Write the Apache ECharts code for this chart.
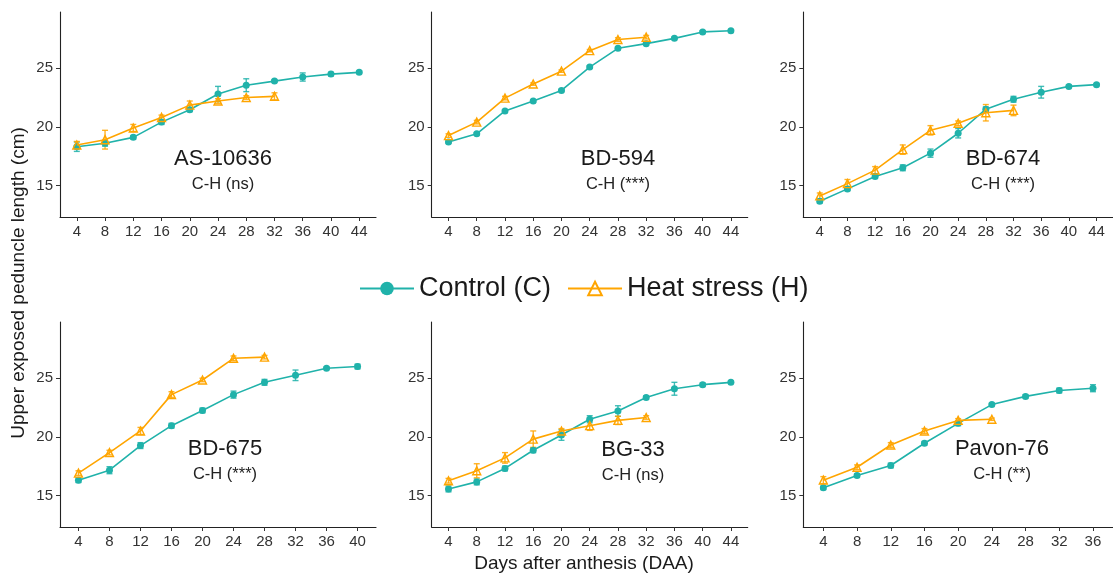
<!DOCTYPE html>
<html>
<head>
<meta charset="utf-8">
<script src="https://cdn.jsdelivr.net/npm/echarts@6/dist/echarts.min.js"></script>
<style>
  html, body { margin: 0; background: #fff; }
  #chart { width: 1113px; height: 574px; }
</style>
</head>
<body>
<div id="chart"></div>
<script>
// sampling days (DAA)
const days = [4, 8, 12, 16, 20, 24, 28, 32, 36, 40, 44];
const yTicks = [15, 20, 25];

const cultivars = ['AS-10636', 'BD-594', 'BD-674', 'BD-675', 'BG-33', 'Pavon-76'];
const contrasts = ['C-H (ns)', 'C-H (***)', 'C-H (***)', 'C-H (***)', 'C-H (ns)', 'C-H (**)'];

// means and standard errors
const as10636Control = [18.3, 18.6, 19.1, 20.4, 21.45, 22.8, 23.55, 23.9, 24.25, 24.5, 24.65];
const as10636ControlSe = [0.4, 0.25, 0.15, 0.2, 0.15, 0.65, 0.55, 0.1, 0.35, 0.15, 0.1];
const as10636Heat = [18.45, 18.9, 19.9, 20.8, 21.85, 22.2, 22.5, 22.6];
const as10636HeatSe = [0.3, 0.8, 0.3, 0.2, 0.35, 0.2, 0.15, 0.3];

const bd594Control = [18.7, 19.4, 21.35, 22.2, 23.1, 25.1, 26.7, 27.1, 27.55, 28.1, 28.2];
const bd594ControlSe = [0.1, 0.1, 0.1, 0.1, 0.1, 0.1, 0.1, 0.1, 0.1, 0.1, 0.1];
const bd594Heat = [19.25, 20.4, 22.45, 23.65, 24.75, 26.5, 27.45, 27.65];
const bd594HeatSe = [0.15, 0.15, 0.15, 0.1, 0.1, 0.1, 0.15, 0.15];

const bd674Control = [13.65, 14.7, 15.75, 16.5, 17.75, 19.45, 21.5, 22.35, 22.95, 23.45, 23.6];
const bd674ControlSe = [0.15, 0.15, 0.15, 0.25, 0.35, 0.4, 0.2, 0.25, 0.5, 0.1, 0.1];
const bd674Heat = [14.1, 15.15, 16.3, 18.05, 19.7, 20.3, 21.2, 21.4];
const bd674HeatSe = [0.25, 0.35, 0.3, 0.4, 0.4, 0.2, 0.7, 0.45];

const bd675Control = [16.3, 17.15, 19.25, 20.95, 22.25, 23.6, 24.65, 25.25, 25.85, 26.0];
const bd675ControlSe = [0.2, 0.3, 0.25, 0.2, 0.2, 0.3, 0.25, 0.45, 0.1, 0.2];
const bd675Heat = [16.9, 18.65, 20.5, 23.6, 24.85, 26.7, 26.8];
const bd675HeatSe = [0.2, 0.2, 0.3, 0.25, 0.15, 0.2, 0.15];

const bg33Control = [15.55, 16.15, 17.3, 18.85, 20.15, 21.5, 22.2, 23.35, 24.1, 24.45, 24.65];
const bg33ControlSe = [0.25, 0.25, 0.2, 0.2, 0.45, 0.3, 0.45, 0.15, 0.55, 0.15, 0.1];
const bg33Heat = [16.25, 17.1, 18.2, 19.8, 20.5, 20.95, 21.4, 21.65];
const bg33HeatSe = [0.2, 0.6, 0.45, 0.7, 0.2, 0.4, 0.35, 0.15];

const pavon76Control = [15.65, 16.7, 17.55, 19.45, 21.15, 22.75, 23.45, 23.95, 24.15];
const pavon76ControlSe = [0.15, 0.15, 0.2, 0.15, 0.2, 0.1, 0.15, 0.2, 0.3];
const pavon76Heat = [16.3, 17.4, 19.3, 20.5, 21.4, 21.5];
const pavon76HeatSe = [0.3, 0.2, 0.2, 0.2, 0.15, 0.1];

const controlMeans = [as10636Control, bd594Control, bd674Control, bd675Control, bg33Control, pavon76Control];
const controlSe = [as10636ControlSe, bd594ControlSe, bd674ControlSe, bd675ControlSe, bg33ControlSe, pavon76ControlSe];
const heatMeans = [as10636Heat, bd594Heat, bd674Heat, bd675Heat, bg33Heat, pavon76Heat];
const heatSe = [as10636HeatSe, bd594HeatSe, bd674HeatSe, bd675HeatSe, bg33HeatSe, pavon76HeatSe];

const TEAL = '#20B2AA';
const ORANGE = '#FFA500';
const FONT = '"Liberation Sans", Arial, sans-serif';

// panel layout (px)
const lefts = [60, 431.7, 803.3];
const tops = [12, 322];
const panelW = 316, panelH = 205;
const xPad = 2.38;
const labelPos = [[223, 159], [618, 159], [1003, 159], [225, 449], [633, 450], [1002, 449]];

const chart = echarts.init(document.getElementById('chart'));

function errorBars(params, api) {
  const x = api.value(0);
  const lo = api.coord([x, api.value(1)]);
  const hi = api.coord([x, api.value(2)]);
  const w = 3;
  const style = { stroke: api.visual('color'), lineWidth: 1.4 };
  return {
    type: 'group',
    children: [
      { type: 'line', shape: { x1: lo[0], y1: lo[1], x2: hi[0], y2: hi[1] }, style },
      { type: 'line', shape: { x1: lo[0] - w, y1: lo[1], x2: lo[0] + w, y2: lo[1] }, style },
      { type: 'line', shape: { x1: hi[0] - w, y1: hi[1], x2: hi[0] + w, y2: hi[1] }, style }
    ]
  };
}

const grids = [], xAxes = [], yAxes = [], series = [], graphics = [];

cultivars.forEach((name, i) => {
  const row = Math.floor(i / 3), col = i % 3;
  grids.push({ left: lefts[col], top: tops[row], width: panelW, height: panelH });

  const n = controlMeans[i].length;
  const xTicks = days.slice(0, n);
  const last = xTicks[n - 1];
  xAxes.push({
    type: 'value', gridIndex: i,
    min: 4 - xPad, max: last + xPad,
    splitLine: { show: false },
    axisLine: { lineStyle: { color: '#222', width: 1.1 } },
    axisTick: { length: 4, customValues: xTicks, lineStyle: { color: '#333' } },
    axisLabel: { customValues: xTicks, fontFamily: FONT, fontSize: 15, color: '#333', margin: 7 }
  });
  yAxes.push({
    type: 'value', gridIndex: i,
    min: 12.3, max: 29.8,
    splitLine: { show: false },
    axisLine: { show: true, lineStyle: { color: '#222', width: 1.1 } },
    axisTick: { show: true, length: 4, customValues: yTicks, lineStyle: { color: '#333' } },
    axisLabel: { customValues: yTicks, fontFamily: FONT, fontSize: 15, color: '#333', margin: 7 }
  });

  const ctrl = controlMeans[i].map((v, j) => [days[j], v]);
  const heat = heatMeans[i].map((v, j) => [days[j], v]);
  const ctrlErr = controlMeans[i].map((v, j) => [days[j], v - controlSe[i][j], v + controlSe[i][j]]);
  const heatErr = heatMeans[i].map((v, j) => [days[j], v - heatSe[i][j], v + heatSe[i][j]]);

  series.push({
    type: 'custom', xAxisIndex: i, yAxisIndex: i, renderItem: errorBars,
    itemStyle: { color: 'rgba(32,178,170,0.85)' }, encode: { x: 0, y: [1, 2] }, data: ctrlErr, z: 1
  });
  series.push({
    type: 'custom', xAxisIndex: i, yAxisIndex: i, renderItem: errorBars,
    itemStyle: { color: 'rgba(255,165,0,0.85)' }, encode: { x: 0, y: [1, 2] }, data: heatErr, z: 1
  });
  series.push({
    name: 'Control (C)', type: 'line', xAxisIndex: i, yAxisIndex: i, data: ctrl,
    symbol: 'circle', symbolSize: 7,
    itemStyle: { color: TEAL }, lineStyle: { color: TEAL, width: 1.6 }, z: 3
  });
  series.push({
    name: 'Heat stress (H)', type: 'line', xAxisIndex: i, yAxisIndex: i, data: heat,
    symbol: 'triangle', symbolSize: 8,
    itemStyle: { color: 'rgba(255,255,255,0)', borderColor: ORANGE, borderWidth: 1.4 },
    lineStyle: { color: ORANGE, width: 1.6 }, z: 4
  });

  const [cx, cy] = labelPos[i];
  graphics.push({
    type: 'text', x: cx, y: cy,
    style: { text: name, font: '22px ' + FONT, fill: '#1a1a1a', textAlign: 'center', textVerticalAlign: 'middle' }
  });
  graphics.push({
    type: 'text', x: cx, y: cy + 25,
    style: { text: contrasts[i], font: '16.5px ' + FONT, fill: '#222', textAlign: 'center', textVerticalAlign: 'middle' }
  });
});

graphics.push({
  type: 'text', x: 584, y: 564,
  style: { text: 'Days after anthesis (DAA)', font: '19px ' + FONT, fill: '#1a1a1a', textAlign: 'center', textVerticalAlign: 'middle' }
});
graphics.push({
  type: 'text', x: 19, y: 283, rotation: Math.PI / 2,
  style: { text: 'Upper exposed peduncle length (cm)', font: '19px ' + FONT, fill: '#1a1a1a', textAlign: 'center', textVerticalAlign: 'middle' }
});

chart.setOption({
  animation: false,
  backgroundColor: '#fff',
  legend: {
    data: ['Control (C)', 'Heat stress (H)'],
    left: 354, top: 270,
    itemWidth: 54, itemHeight: 17, itemGap: 16,
    textStyle: { fontFamily: FONT, fontSize: 27, color: '#1a1a1a' }
  },
  grid: grids,
  xAxis: xAxes,
  yAxis: yAxes,
  series: series,
  graphic: graphics
});
</script>
</body>
</html>
